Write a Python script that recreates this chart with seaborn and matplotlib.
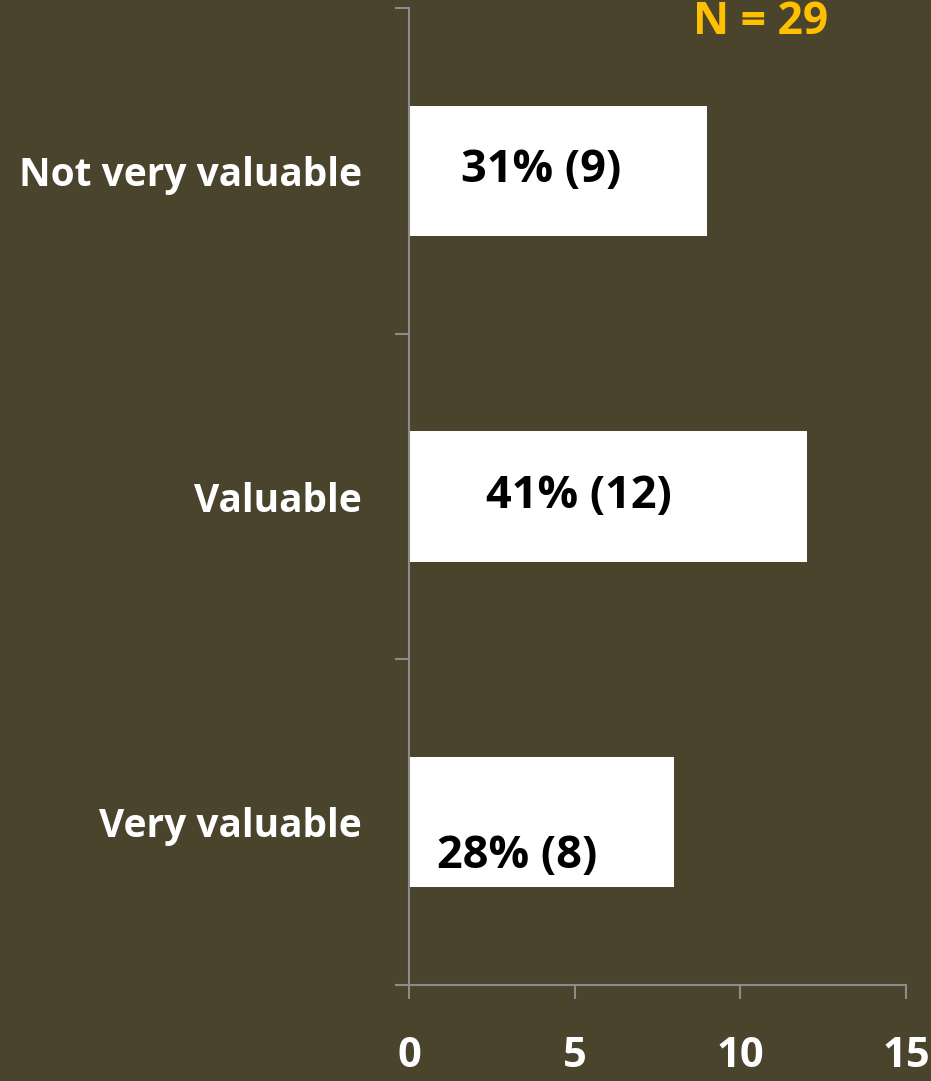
import matplotlib
matplotlib.use("Agg")
import matplotlib.pyplot as plt
import seaborn as sns
import pandas as pd

categories = ["Not very valuable", "Valuable", "Very valuable"]
counts = [9, 12, 8]
percents = [31, 41, 28]
total_n = 29
x_ticks = [0, 5, 10, 15]

# label anchor positions inside each bar (x in data units, y offset from bar centre)
label_x = [3.98, 5.13, 3.26]
label_dy = [0.0, 0.0, 0.105]

BG = "#4a442d"
AXIS = "#8c8c8c"

sns.set_theme(style="white")
plt.rcParams["font.family"] = ["Open Sans", "DejaVu Sans"]
plt.rcParams["font.weight"] = "bold"

df = pd.DataFrame({"category": categories, "count": counts})

fig = plt.figure(figsize=(9.31, 10.81), dpi=100, facecolor=BG)
ax = fig.add_axes([409 / 931, 1 - 985 / 1081, 497 / 931, 977 / 1081])
ax.set_facecolor(BG)

sns.barplot(data=df, x="count", y="category", order=categories,
            color="white", width=0.4, saturation=1, ax=ax, edgecolor="none")

ax.set_xlim(0, 15)
ax.set_ylim(2.5, -0.5)
ax.set_xlabel("")
ax.set_ylabel("")

for sp in ["top", "right"]:
    ax.spines[sp].set_visible(False)
for sp in ["left", "bottom"]:
    ax.spines[sp].set_color(AXIS)
    ax.spines[sp].set_linewidth(1.5)

ax.set_xticks(x_ticks)
ax.set_xticklabels([str(t) for t in x_ticks], fontsize=30, fontweight="bold", color="white")
ax.tick_params(axis="x", direction="out", length=10, width=1.5, color=AXIS, pad=27, bottom=True)

ax.set_yticks(range(len(categories)))
ax.set_yticklabels(categories, fontsize=28, fontweight="bold", color="white")
ax.tick_params(axis="y", which="major", length=0, pad=34, left=True)
ax.set_yticks([-0.5, 0.5, 1.5, 2.5], minor=True)
ax.tick_params(axis="y", which="minor", direction="out", length=10, width=1.5, color=AXIS, left=True)

for i, (p, c) in enumerate(zip(percents, counts)):
    ax.text(label_x[i], i + label_dy[i], f"{p}% ({c})", ha="center", va="center",
            fontsize=32.5, fontweight="bold", color="black")

fig.text(761 / 931, 1 - 22 / 1081, f"N = {total_n}", ha="center", va="center",
         fontsize=32, fontweight="bold", color="#ffc000")

fig.savefig("out.png", dpi=100, facecolor=BG)
